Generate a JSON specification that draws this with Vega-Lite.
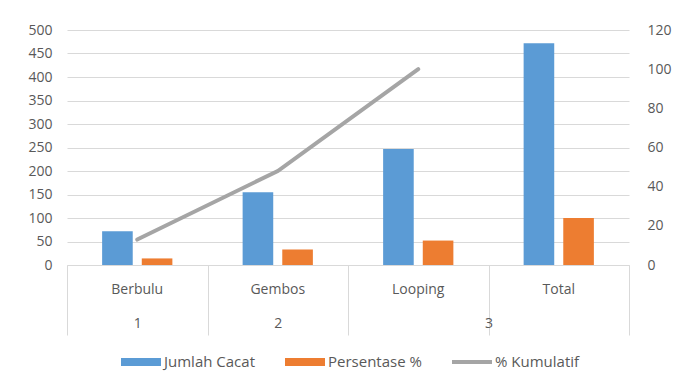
{
  "$schema": "https://vega.github.io/schema/vega-lite/v6.json",
  "autosize": {"type": "none"},
  "width": 562,
  "height": 235,
  "padding": {"left": 67, "top": 30, "right": 48, "bottom": 123},
  "background": "white",
  "config": {
    "view": {"stroke": null},
    "font": "Open Sans",
    "axis": {"labelFont": "Open Sans", "labelFontSize": 14, "labelColor": "#595959", "title": null}
  },
  "data": {
    "values": [
      {"kategori": "Berbulu", "kelompok": "1", "Jumlah Cacat": 72, "Persentase %": 14, "% Kumulatif": 13},
      {"kategori": "Gembos", "kelompok": "2", "Jumlah Cacat": 155, "Persentase %": 33, "% Kumulatif": 48},
      {"kategori": "Looping", "kelompok": "3", "Jumlah Cacat": 247, "Persentase %": 52, "% Kumulatif": 100},
      {"kategori": "Total", "kelompok": "3", "Jumlah Cacat": 472, "Persentase %": 100}
    ]
  },
  "layer": [
    {
      "transform": [{"fold": ["Jumlah Cacat", "Persentase %"], "as": ["seri", "nilai"]}],
      "mark": {"type": "bar"},
      "encoding": {
        "x": {
          "field": "kategori", "type": "nominal",
          "scale": {"domain": ["Berbulu", "Gembos", "Looping", "Total"], "paddingInner": 0, "paddingOuter": 0},
          "axis": {"labelAngle": 0, "ticks": false, "domainColor": "#D9D9D9", "domainWidth": 1, "labelPadding": 17, "grid": false}
        },
        "xOffset": {
          "field": "seri", "type": "nominal",
          "scale": {"domain": ["Jumlah Cacat", "Persentase %"], "paddingInner": 0.228, "paddingOuter": 0.886}
        },
        "y": {
          "field": "nilai", "type": "quantitative",
          "scale": {"domain": [0, 500], "nice": false},
          "axis": {"values": [0, 50, 100, 150, 200, 250, 300, 350, 400, 450, 500], "grid": true, "gridColor": "#D9D9D9", "domain": false, "ticks": false, "labelPadding": 15}
        },
        "color": {
          "field": "seri", "type": "nominal",
          "scale": {"domain": ["Jumlah Cacat", "Persentase %", "% Kumulatif"], "range": ["#5B9BD5", "#ED7D31", "#A5A5A5"]},
          "legend": {
            "title": null,
            "orient": "none",
            "direction": "horizontal",
            "legendX": 54,
            "legendY": 312,
            "symbolSize": 1600,
            "labelFont": "Open Sans",
            "labelFontSize": 15,
            "labelColor": "#595959",
            "labelOffset": 3,
            "columnPadding": 30,
            "encode": {
              "symbols": {
                "update": {
                  "shape": {"signal": "datum.value === '% Kumulatif' ? 'M-1,-0.1H1V0.1H-1Z' : 'M-1,-0.2H1V0.2H-1Z'"},
                  "fill": {"signal": "scale('color', datum.value)"},
                  "stroke": {"value": "transparent"},
                  "strokeWidth": {"value": 0},
                  "opacity": {"value": 1},
                  "fillOpacity": {"value": 1}
                }
              }
            }
          }
        }
      }
    },
    {
      "transform": [{"filter": "isValid(datum['% Kumulatif'])"}],
      "mark": {"type": "line", "strokeWidth": 4, "strokeCap": "round"},
      "encoding": {
        "x": {
          "field": "kategori", "type": "nominal",
          "scale": {"domain": ["Berbulu", "Gembos", "Looping", "Total"], "paddingInner": 0, "paddingOuter": 0},
          "axis": null
        },
        "y": {
          "field": "% Kumulatif", "type": "quantitative",
          "scale": {"domain": [0, 120], "nice": false},
          "axis": {"orient": "right", "values": [0, 20, 40, 60, 80, 100, 120], "grid": false, "domain": false, "ticks": false, "labelPadding": 18}
        },
        "color": {"datum": "% Kumulatif"}
      }
    },
    {
      "mark": {"type": "point", "opacity": 0},
      "encoding": {
        "x": {
          "datum": 0, "type": "quantitative",
          "scale": {"domain": [0, 4], "nice": false, "zero": false},
          "axis": {
            "orient": "bottom",
            "values": [0, 0.5, 1, 1.5, 2, 3, 4],
            "labelExpr": "datum.value == 0.5 ? '1' : datum.value == 1.5 ? '2' : datum.value == 3 ? '3' : ''",
            "tickSize": 70,
            "tickColor": "#D9D9D9",
            "tickOpacity": {"condition": {"test": "datum.value % 1 == 0", "value": 1}, "value": 0},
            "domain": false,
            "grid": false,
            "labelPadding": -19,
            "labelFlush": false,
            "labelOverlap": false
          }
        }
      }
    }
  ],
  "resolve": {"scale": {"x": "independent", "y": "independent"}, "axis": {"x": "independent", "y": "independent"}}
}
